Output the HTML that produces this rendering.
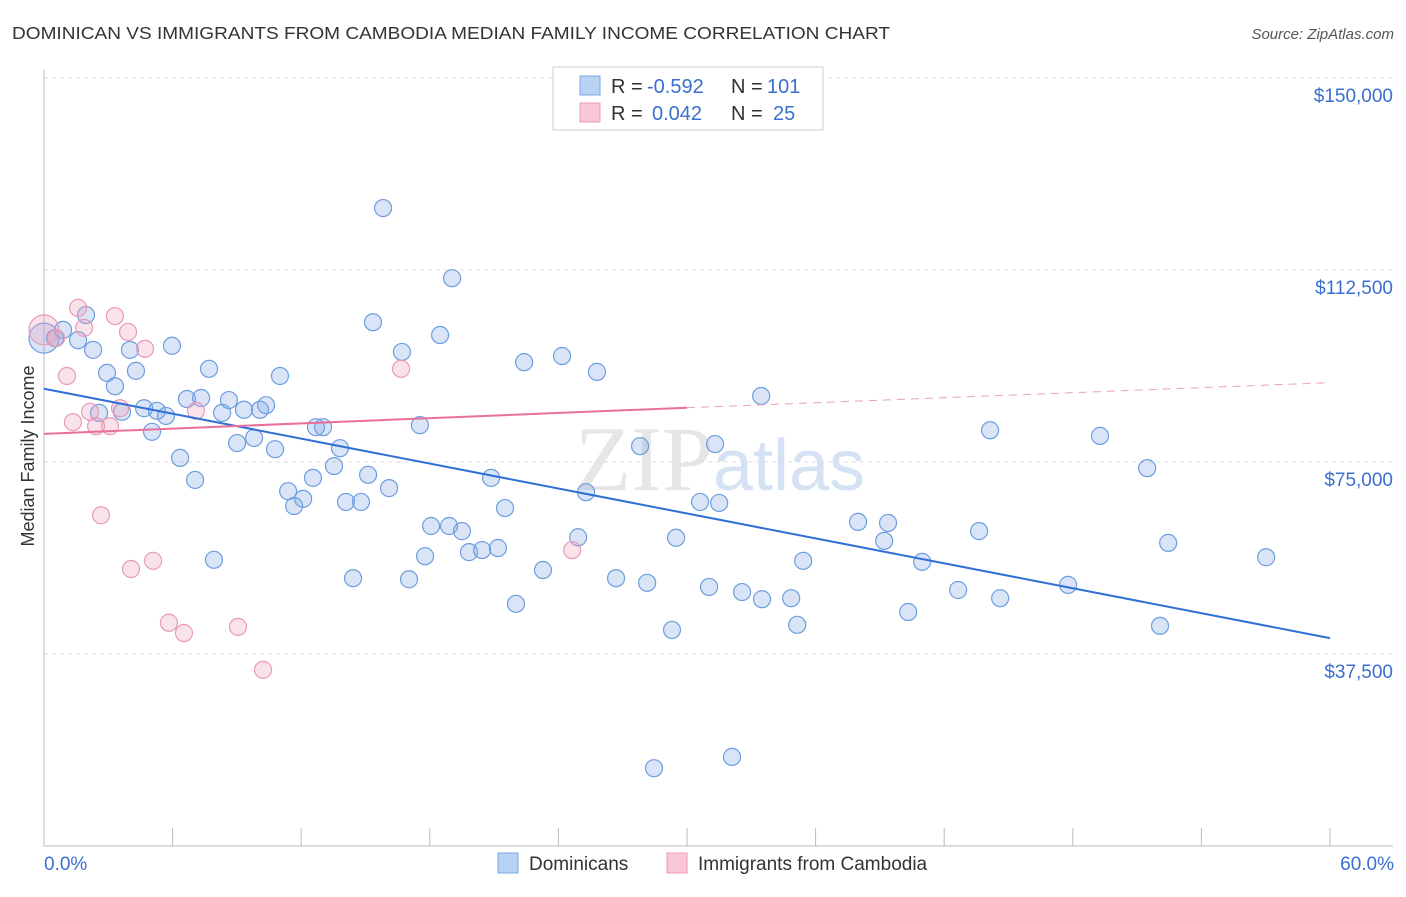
<!DOCTYPE html>
<html><head><meta charset="utf-8"><style>
body{margin:0;background:#fff;width:1406px;height:892px;overflow:hidden;font-family:"Liberation Sans",sans-serif}
</style></head><body>
<svg id="chart" width="1406" height="892" xmlns="http://www.w3.org/2000/svg" font-family="Liberation Sans, sans-serif">
<text x="12" y="39" font-size="17.5" fill="#333" textLength="878" lengthAdjust="spacingAndGlyphs">DOMINICAN VS IMMIGRANTS FROM CAMBODIA MEDIAN FAMILY INCOME CORRELATION CHART</text>
<text x="1394" y="39" font-size="15" fill="#555" text-anchor="end" font-style="italic">Source: ZipAtlas.com</text>
<text x="720" y="490" font-size="92" fill="#e6e6e6" text-anchor="middle" font-family="Liberation Serif, serif">ZIP<tspan fill="#d4e2f4" font-family="Liberation Sans, sans-serif" font-size="72">atlas</tspan></text>
<text transform="translate(34,456) rotate(-90)" font-size="18" fill="#333" text-anchor="middle">Median Family Income</text>
<g id="grid"></g><g id="marks"></g>
<g font-size="20">
<rect x="553" y="67" width="270" height="63" fill="#fff" stroke="#ccc"/>
<rect x="580" y="76" width="20" height="19" fill="#b9d2f3" stroke="#7aa7e6"/>
<rect x="580" y="103" width="20" height="19" fill="#f8c8d8" stroke="#eb9ab7"/>
<text x="611" y="93" fill="#333">R =</text>
<text x="647" y="93" fill="#3a6fd0">-0.592</text>
<text x="731" y="93" fill="#333">N =</text>
<text x="767" y="93" fill="#3a6fd0">101</text>
<text x="611" y="120" fill="#333">R =</text>
<text x="652" y="120" fill="#3a6fd0">0.042</text>
<text x="731" y="120" fill="#333">N =</text>
<text x="773" y="120" fill="#3a6fd0">25</text>
</g>
<g>
<rect x="498" y="853" width="20" height="20" fill="#b9d2f3" stroke="#7aa7e6"/>
<text x="529" y="870" font-size="19" fill="#333">Dominicans</text>
<rect x="667" y="853" width="20" height="20" fill="#f8c8d8" stroke="#eb9ab7"/>
<text x="698" y="870" font-size="19" fill="#333">Immigrants from Cambodia</text>
</g>
<text x="44" y="870" font-size="19" fill="#3a6fd0">0.0%</text>
<text x="1394" y="870" font-size="19" fill="#3a6fd0" text-anchor="end">60.0%</text>
</svg>
<script>
const yTicks=[37500,75000,112500,150000];
const yTickLabels=["$37,500","$75,000","$112,500","$150,000"];
const xTicks=[0,6,12,18,24,30,36,42,48,54,60];
const domX=[0.0,0.51,0.89,1.59,1.96,2.29,2.57,2.94,3.31,3.64,4.01,4.29,4.67,5.04,5.27,5.69,5.97,6.35,6.67,7.05,7.33,7.70,7.93,8.31,8.63,9.01,9.33,9.80,10.08,10.36,10.78,11.01,11.39,11.67,12.09,12.55,12.69,13.02,13.53,13.81,14.09,14.42,14.79,15.12,15.35,15.82,16.10,16.70,17.03,17.54,17.78,18.06,18.48,18.90,19.04,19.50,19.83,20.44,20.86,21.18,21.51,22.02,22.40,23.28,24.17,24.92,25.29,25.80,26.69,27.81,28.14,28.46,29.30,29.49,30.61,31.03,31.31,31.50,32.10,32.57,33.46,33.50,34.86,35.14,35.42,37.98,39.20,39.38,40.32,40.97,42.65,43.63,44.14,44.61,47.78,49.27,51.47,52.07,52.45,57.02];
const domY=[99.2,99.2,100.8,98.8,103.7,96.9,84.6,92.4,89.8,84.8,96.9,92.8,85.5,80.9,85.0,84.0,97.7,75.8,87.3,71.5,87.5,93.2,55.9,84.6,87.1,78.7,85.2,79.7,85.2,86.1,77.5,91.8,69.3,66.4,67.8,71.9,81.8,81.8,74.2,77.7,67.2,52.3,67.2,72.5,102.3,124.6,69.9,96.5,52.1,82.2,56.6,62.5,99.8,62.5,110.9,61.5,57.4,57.8,71.9,58.2,66.0,47.3,94.5,53.9,95.7,60.3,69.1,92.6,52.3,78.1,51.4,15.2,42.2,60.2,67.2,50.6,78.5,67.0,17.4,49.6,87.9,48.2,48.4,43.2,55.7,63.3,59.6,63.1,45.7,55.5,50.0,61.5,81.2,48.4,51.0,80.1,73.8,43.0,59.2,56.4];
const camX=[0,0.56,1.07,1.35,1.59,1.87,2.15,2.43,2.66,3.08,3.31,3.55,3.92,4.06,4.71,5.09,5.83,6.53,7.09,9.05,10.22,16.66,24.64];
const camY=[100.8,99.2,91.8,82.8,105.1,101.2,84.8,82.0,64.6,82.0,103.5,85.5,100.4,54.1,97.1,55.7,43.6,41.6,85.0,42.8,34.4,93.2,57.8];
const domTrend=[89.3,40.6]; // $k at 0% and 60%
const camTrend=[80.5,85.6,90.5]; // $k at 0%, 30%, 60%
const X=v=>44+v/60*1286, Y=v=>846-v/37500*192;
const NS="http://www.w3.org/2000/svg";
function mk(tag,attrs,parent){const e=document.createElementNS(NS,tag);for(const k in attrs)e.setAttribute(k,attrs[k]);parent.appendChild(e);return e;}
const grid=document.getElementById('grid'),marks=document.getElementById('marks');
yTicks.forEach((t,i)=>{
 const l=mk('line',{x1:44,x2:1393,y1:Y(t),y2:Y(t),stroke:'#ddd','stroke-dasharray':'4,4'},grid);
 
 
 const tx=mk('text',{x:1393,y:Y(t)+24,'font-size':19,fill:'#3a6fd0','text-anchor':'end'},grid);
 tx.textContent=yTickLabels[i];
 
 
});
const ax=mk('line',{x1:44,x2:44,y1:70,y2:846,stroke:'#bbb'},grid);


const bx=mk('line',{x1:44,x2:1393,y1:846,y2:846,stroke:'#bbb'},grid);


xTicks.forEach(t=>{
 const l=mk('line',{x1:X(t),x2:X(t),y1:828,y2:846,stroke:'#bbb'},grid);
 
 
});
domX.forEach((x,i)=>{
 const c=mk('circle',{cx:X(x),cy:Y(domY[i]*1000),r:i==0?15:8.5,fill:'rgba(130,170,230,0.3)',stroke:'#6d9de0','stroke-width':1.2},marks);
 
 
});
camX.forEach((x,i)=>{
 const c=mk('circle',{cx:X(x),cy:Y(camY[i]*1000),r:i==0?15:8.5,fill:'rgba(240,160,190,0.3)',stroke:'#e99ab6','stroke-width':1.2},marks);
 
 
});
const bl=mk('line',{x1:X(0),y1:Y(domTrend[0]*1000),x2:X(60),y2:Y(domTrend[1]*1000),stroke:'#2f6fd6','stroke-width':2},marks);


const pl=mk('line',{x1:X(0),y1:Y(camTrend[0]*1000),x2:X(30),y2:Y(camTrend[1]*1000),stroke:'#e8709a','stroke-width':2},marks);


const pd=mk('line',{x1:X(30),y1:Y(camTrend[1]*1000),x2:X(60),y2:Y(camTrend[2]*1000),stroke:'#eba0ba','stroke-width':1,'stroke-dasharray':'8,6'},marks);


</script>
</body></html>
